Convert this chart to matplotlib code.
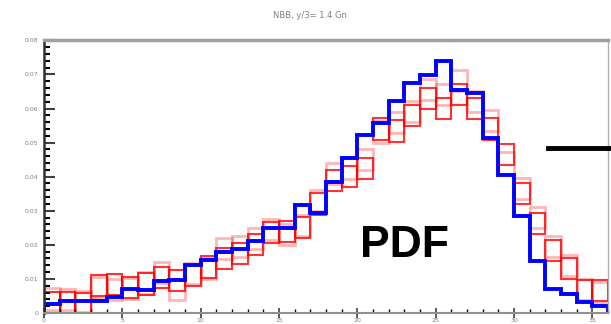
import numpy as np
import matplotlib
matplotlib.use("Agg")
import matplotlib.pyplot as plt
from matplotlib.lines import Line2D
from matplotlib.ticker import AutoMinorLocator, MultipleLocator

# bin edges: 36 unit-width bins from 0 to 36
edges = np.arange(0, 37)
centers = edges[:-1] + 0.5

blue_vals = [0.0027, 0.0035, 0.0035, 0.0035, 0.0047, 0.0071, 0.0068, 0.0094, 0.0097,
             0.0142, 0.0156, 0.0180, 0.0189, 0.0212, 0.0248, 0.0248, 0.0316, 0.0292,
             0.0383, 0.0454, 0.0522, 0.0558, 0.0622, 0.0676, 0.0699, 0.0740, 0.0655,
             0.0646, 0.0513, 0.0404, 0.0286, 0.0153, 0.0071, 0.0056, 0.0032, 0.0021]

red_vals = [0.0030, 0.0032, 0.0027, 0.0080, 0.0083, 0.0075, 0.0085, 0.0105, 0.0095,
            0.0109, 0.0135, 0.0160, 0.0175, 0.0200, 0.0235, 0.0239, 0.0250, 0.0320,
            0.0390, 0.0401, 0.0425, 0.0540, 0.0534, 0.0580, 0.0630, 0.0599, 0.0640,
            0.0599, 0.0540, 0.0466, 0.0350, 0.0263, 0.0183, 0.0130, 0.0065, 0.0065]

pink_vals = [0.0041, 0.0040, 0.0035, 0.0075, 0.0070, 0.0071, 0.0088, 0.0118, 0.0068,
             0.0115, 0.0130, 0.0189, 0.0195, 0.0218, 0.0245, 0.0230, 0.0257, 0.0330,
             0.0410, 0.0425, 0.0450, 0.0531, 0.0560, 0.0590, 0.0655, 0.0640, 0.0681,
             0.0620, 0.0566, 0.0440, 0.0366, 0.0280, 0.0195, 0.0140, 0.0070, 0.0060]

err = 0.0031  # half height of the error boxes

x_ticks = [0, 5, 10, 15, 20, 25, 30, 35]
y_ticks = [0, 0.01, 0.02, 0.03, 0.04, 0.05, 0.06, 0.07, 0.08]
y_labels = ["0", "0.01", "0.02", "0.03", "0.04", "0.05", "0.06", "0.07", "0.08"]

fig = plt.figure(figsize=(6.11, 3.24), dpi=100)
ax = fig.add_axes([44 / 611, 11 / 324, 564 / 611, 273 / 324])

ax.bar(centers, 2 * err, bottom=np.array(pink_vals) - err, width=1.0, fill=False,
       edgecolor="#ff3030", alpha=0.35, linewidth=2.0)
ax.bar(centers, 2 * err, bottom=np.array(red_vals) - err, width=1.0, fill=False,
       edgecolor="#ff0000", alpha=0.8, linewidth=1.5)
ax.stairs(blue_vals, edges, color="#0000ff", linewidth=2.8)

ax.set_xlim(0, 36)
ax.set_ylim(0, 0.0801)
ax.set_xticks(x_ticks)
ax.set_xticklabels([str(t) for t in x_ticks])
ax.xaxis.set_minor_locator(MultipleLocator(1))
ax.set_yticks(y_ticks)
ax.set_yticklabels(y_labels)
ax.yaxis.set_minor_locator(AutoMinorLocator(5))

ax.tick_params(axis="both", labelsize=4.5, labelcolor="#808080", color="#404040")
ax.tick_params(axis="y", which="major", direction="in", length=8, width=1.5, pad=4)
ax.tick_params(axis="y", which="minor", direction="in", length=4, width=1.5)
ax.tick_params(axis="x", which="major", direction="inout", length=7, width=1.2, pad=0)
ax.tick_params(axis="x", which="minor", direction="in", length=3, width=1)

ax.spines["left"].set_color("#303030")
ax.spines["left"].set_linewidth(1.8)
ax.spines["top"].set_color("#a0a0a0")
ax.spines["top"].set_linewidth(2.5)
ax.spines["bottom"].set_color("#909090")
ax.spines["bottom"].set_linewidth(1.5)
ax.spines["right"].set_color("#b0b0b0")
ax.spines["right"].set_linewidth(1)

fig.text(310 / 611, 1 - 15 / 324, "NBB, y/3= 1.4 Gn", ha="center", va="center",
         fontsize=6, color="#808080")

ax.text(23.0, 0.0197, "PDF", ha="center", va="center", fontsize=32,
        fontweight="bold", family="Liberation Sans")

fig.add_artist(Line2D([548 / 611, 1.0], [1 - 148 / 324] * 2, color="black",
                      linewidth=3.5, transform=fig.transFigure))

fig.savefig("out.png", dpi=100)
